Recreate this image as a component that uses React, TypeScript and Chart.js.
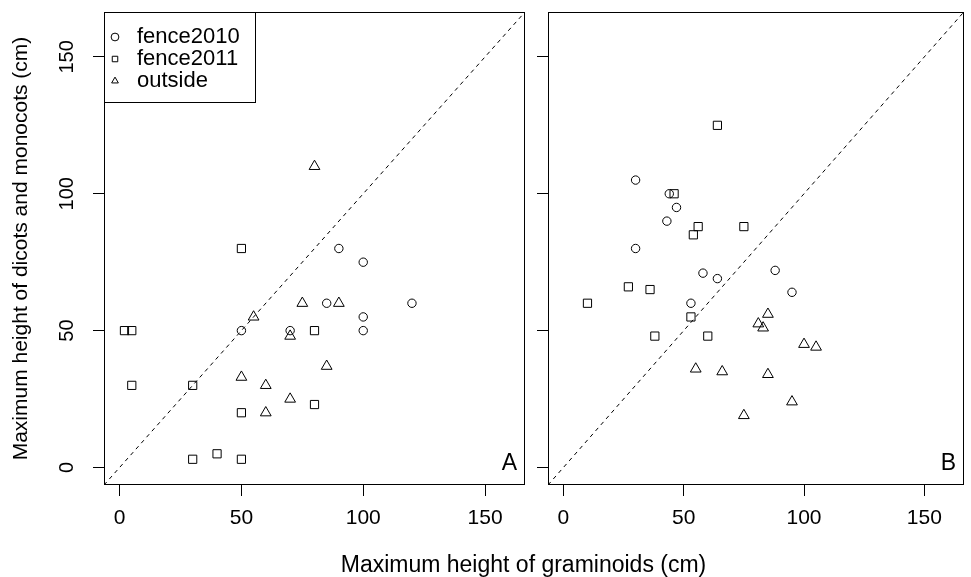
import React, { useEffect, useRef } from 'react';
import { Chart, registerables } from 'chart.js';

Chart.register(...registerables);

const FONT = '"Liberation Sans", Arial, Helvetica, sans-serif';

// ---- data -------------------------------------------------------------
const seriesNames = ['fence2010', 'fence2011', 'outside'];
const seriesStyles = ['circle', 'rect', 'triangle'];
const tickValues = [0, 50, 100, 150];
const axisRange = [-6.4, 166.4];
const diagonal = [-6.4, 166.4];
const panelLabels = ['A', 'B'];
const xTitle = 'Maximum height of graminoids (cm)';
const yTitle = 'Maximum height of dicots and monocots (cm)';

// Panel A
const fence2010A_x = [90, 100, 85, 120, 100, 100, 50, 70];
const fence2010A_y = [80, 75, 60, 60, 55, 50, 50, 50];
const fence2011A_x = [50, 2, 5, 5, 30, 80, 80, 50, 30, 40, 50];
const fence2011A_y = [80, 50, 50, 30, 30, 50, 23, 20, 3, 5, 3];
const outsideA_x = [80, 75, 90, 55, 70, 85, 50, 60, 70, 60];
const outsideA_y = [110, 60, 60, 55, 48, 37, 33, 30, 25, 20];

// Panel B
const fence2010B_x = [30, 44, 47, 43, 30, 58, 64, 88, 95, 53];
const fence2010B_y = [105, 100, 95, 90, 80, 71, 69, 72, 64, 60];
const fence2011B_x = [64, 46, 56, 54, 75, 27, 36, 10, 53, 38, 60];
const fence2011B_y = [125, 100, 88, 85, 88, 66, 65, 60, 55, 48, 48];
const outsideB_x = [85, 81, 83, 100, 105, 55, 66, 85, 95, 75];
const outsideB_y = [56, 52.5, 51, 45, 44, 36, 35, 34, 24, 19];

const panels = [
  [[fence2010A_x, fence2010A_y], [fence2011A_x, fence2011A_y], [outsideA_x, outsideA_y]],
  [[fence2010B_x, fence2010B_y], [fence2011B_x, fence2011B_y], [outsideB_x, outsideB_y]],
];

const pointRadii = [4.2, 5.8, 6.2];

// ---- chart config ------------------------------------------------------
function makeConfig(panel: number): any {
  const datasets: any[] = panels[panel].map((s, i) => ({
    label: seriesNames[i],
    data: s[0].map((x, j) => ({ x, y: s[1][j] })),
    pointStyle: seriesStyles[i],
    pointRadius: pointRadii[i],
    pointBorderWidth: 1,
    borderWidth: 1,
    borderColor: '#000',
    backgroundColor: 'rgba(0,0,0,0)',
    showLine: false,
  }));
  datasets.push({
    label: 'y = x',
    data: diagonal.map((v) => ({ x: v, y: v })),
    showLine: true,
    borderDash: [4, 4],
    borderWidth: 1,
    borderColor: '#000',
    pointRadius: 0,
  });

  const isLeft = panel === 0;

  const framePlugin = {
    id: 'frame' + panel,
    afterDraw(chart: any) {
      const { ctx, chartArea } = chart;
      ctx.save();
      ctx.strokeStyle = '#000';
      ctx.lineWidth = 1;
      ctx.setLineDash([]);
      ctx.strokeRect(
        Math.round(chartArea.left) + 0.5,
        Math.round(chartArea.top) + 0.5,
        Math.round(chartArea.right - chartArea.left) - 1,
        Math.round(chartArea.bottom - chartArea.top) - 1
      );
      // panel letter
      const xs = chart.scales.x;
      const ys = chart.scales.y;
      ctx.fillStyle = '#000';
      ctx.font = '23px ' + FONT;
      ctx.textAlign = 'center';
      ctx.textBaseline = 'middle';
      ctx.fillText(panelLabels[panel], xs.getPixelForValue(160), ys.getPixelForValue(1.5));
      // legend border
      if (isLeft && chart.legend && chart.legend.legendHitBoxes) {
        const hb = chart.legend.legendHitBoxes;
        let r = 0;
        let b = 0;
        hb.forEach((h: any) => {
          r = Math.max(r, h.left + h.width);
          b = Math.max(b, h.top + h.height);
        });
        const l = Math.round(chartArea.left) + 0.5;
        const t = Math.round(chartArea.top) + 0.5;
        ctx.strokeRect(l, t, Math.round(r + 16 - l), Math.round(b + 10 - t));
      }
      ctx.restore();
    },
  };

  return {
    type: 'scatter',
    data: { datasets },
    plugins: [framePlugin],
    options: {
      animation: false,
      responsive: false,
      maintainAspectRatio: false,
      layout: { padding: { left: 0, top: 12, right: isLeft ? 11 : 2, bottom: 0 } },
      plugins: {
        tooltip: { enabled: false },
        legend: {
          display: isLeft,
          position: 'chartArea',
          align: 'start',
          title: { display: true, text: ' ', padding: 0, font: { size: 10, lineHeight: 2.6 } },
          labels: {
            usePointStyle: true,
            boxWidth: 22,
            boxHeight: 5.5,
            padding: 0,
            color: '#000',
            font: { family: FONT, size: 22 },
            filter: (item: any) => item.datasetIndex < 3,
          },
        },
      },
      scales: {
        x: {
          type: 'linear',
          min: axisRange[0],
          max: axisRange[1],
          afterBuildTicks: (s: any) => {
            s.ticks = tickValues.map((v) => ({ value: v }));
          },
          afterFit: (s: any) => {
            s.height = 92;
            s.paddingLeft = 0;
            s.paddingRight = 0;
          },
          border: { display: false },
          grid: { display: true, drawOnChartArea: false, drawTicks: true, tickLength: 11, color: '#000', lineWidth: 1 },
          ticks: { color: '#000', font: { family: FONT, size: 21 }, padding: 10, maxRotation: 0, minRotation: 0 },
        },
        y: {
          type: 'linear',
          min: axisRange[0],
          max: axisRange[1],
          afterBuildTicks: (s: any) => {
            s.ticks = tickValues.map((v) => ({ value: v }));
          },
          afterFit: (s: any) => {
            s.width = isLeft ? 104 : 12;
            s.paddingTop = 0;
            s.paddingBottom = 0;
          },
          border: { display: false },
          grid: { display: true, drawOnChartArea: false, drawTicks: true, tickLength: 11, color: '#000', lineWidth: 1 },
          ticks: {
            display: isLeft,
            color: '#000',
            font: { family: FONT, size: 20 },
            minRotation: 90,
            maxRotation: 90,
            crossAlign: 'center',
            padding: 9,
          },
          title: {
            display: isLeft,
            text: yTitle,
            color: '#000',
            font: { family: FONT, size: 21 },
            padding: { top: 9, bottom: 0 },
          },
        },
      },
    },
  };
}

function Panel({ panel, left, width }: { panel: number; left: number; width: number }) {
  const ref = useRef<HTMLCanvasElement | null>(null);
  useEffect(() => {
    if (!ref.current) return;
    const chart = new Chart(ref.current, makeConfig(panel));
    return () => chart.destroy();
  }, [panel]);
  return (
    <canvas
      ref={ref}
      width={width}
      height={577}
      style={{ position: 'absolute', left, top: 0, width, height: 577 }}
    />
  );
}

export default function App() {
  return (
    <div
      style={{
        position: 'fixed',
        left: 0,
        top: 0,
        width: 971,
        height: 577,
        background: '#fff',
        overflow: 'hidden',
      }}
    >
      <Panel panel={0} left={0} width={536} />
      <Panel panel={1} left={536} width={435} />
      <div
        style={{
          position: 'absolute',
          left: 523.5,
          top: 551,
          transform: 'translateX(-50%)',
          whiteSpace: 'nowrap',
          font: '23px ' + FONT,
          lineHeight: '26px',
          color: '#000',
        }}
      >
        {xTitle}
      </div>
    </div>
  );
}
